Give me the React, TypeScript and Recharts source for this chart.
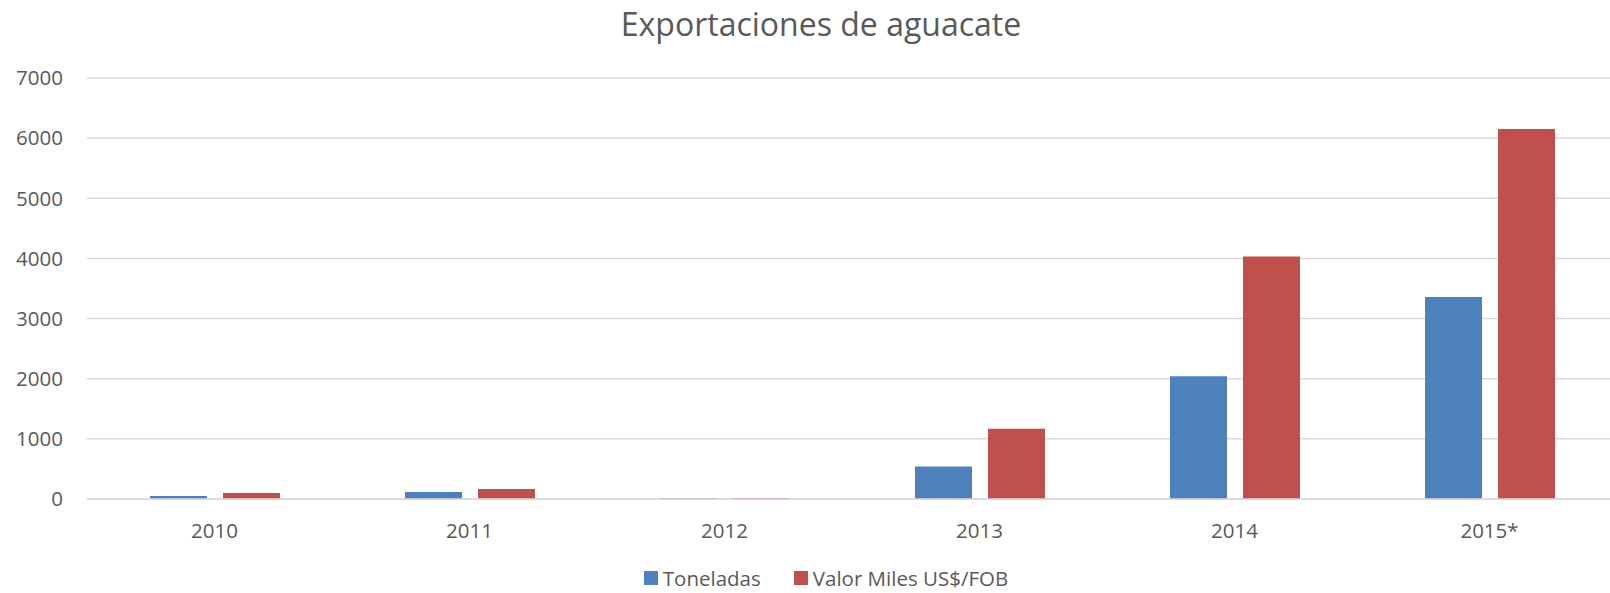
import React from "react";
import {
  BarChart,
  Bar,
  XAxis,
  YAxis,
  CartesianGrid,
  Legend,
} from "recharts";

const years = ["2010", "2011", "2012", "2013", "2014", "2015*"];
const toneladas = [50, 115, 12, 540, 2040, 3360];
const valorFob = [100, 165, 15, 1170, 4030, 6150];
const yTicks = [0, 1000, 2000, 3000, 4000, 5000, 6000, 7000];

const data = years.map((year, i) => ({
  year,
  toneladas: toneladas[i],
  valor: valorFob[i],
}));

const FONT = "'Open Sans', sans-serif";
const GREY = "#595959";
const BLUE = "#4F81BD";
const RED = "#C0504D";

function LegendBox({ payload }: any) {
  return (
    <div
      style={{
        display: "flex",
        justifyContent: "center",
        paddingLeft: 32,
        height: 26,
        alignItems: "center",
        fontFamily: FONT,
        fontSize: 20.5,
        lineHeight: "24px",
        color: GREY,
      }}
    >
      {(payload || []).map((item: any, i: number) => (
        <div
          key={item.value}
          style={{ display: "flex", alignItems: "center", marginLeft: i ? 33 : 0 }}
        >
          <span
            style={{
              width: 14,
              height: 14,
              background: item.color,
              display: "inline-block",
              marginRight: 5,
            }}
          />
          <span>{item.value}</span>
        </div>
      ))}
    </div>
  );
}

export default function App() {
  return (
    <div
      style={{
        position: "absolute",
        left: 0,
        top: 0,
        width: 1610,
        height: 593,
        overflow: "hidden",
        background: "#fff",
        fontFamily: FONT,
      }}
    >
      <div
        style={{
          position: "absolute",
          left: 0,
          width: 1642,
          top: 2,
          textAlign: "center",
          fontSize: 32,
          color: GREY,
          lineHeight: "44px",
        }}
      >
        Exportaciones de aguacate
      </div>
      <BarChart
        width={1620}
        height={593}
        data={data}
        margin={{ top: 78, right: 3, left: 0, bottom: 28 }}
        barCategoryGap={62}
        barGap={16}
      >
        <CartesianGrid vertical={false} stroke="#D9D9D9" strokeWidth={1.5} />
        <XAxis
          dataKey="year"
          height={40}
          axisLine={{ stroke: "#D9D9D9", strokeWidth: 1.5 }}
          tickLine={false}
          tickMargin={18}
          tick={{ fill: GREY, fontSize: 20.5, fontFamily: FONT }}
        />
        <YAxis
          width={87}
          domain={[0, 7000]}
          ticks={yTicks}
          axisLine={false}
          tickLine={false}
          tickMargin={18}
          tick={{ fill: GREY, fontSize: 20.5, fontFamily: FONT }}
        />
        <Legend
          verticalAlign="bottom"
          content={<LegendBox />}
          wrapperStyle={{ top: 565, left: 0, width: 1620 }}
        />
        <Bar
          dataKey="toneladas"
          name="Toneladas"
          fill={BLUE}
          barSize={57}
          isAnimationActive={false}
        />
        <Bar
          dataKey="valor"
          name="Valor Miles US$/FOB"
          fill={RED}
          barSize={57}
          isAnimationActive={false}
        />
      </BarChart>
    </div>
  );
}
